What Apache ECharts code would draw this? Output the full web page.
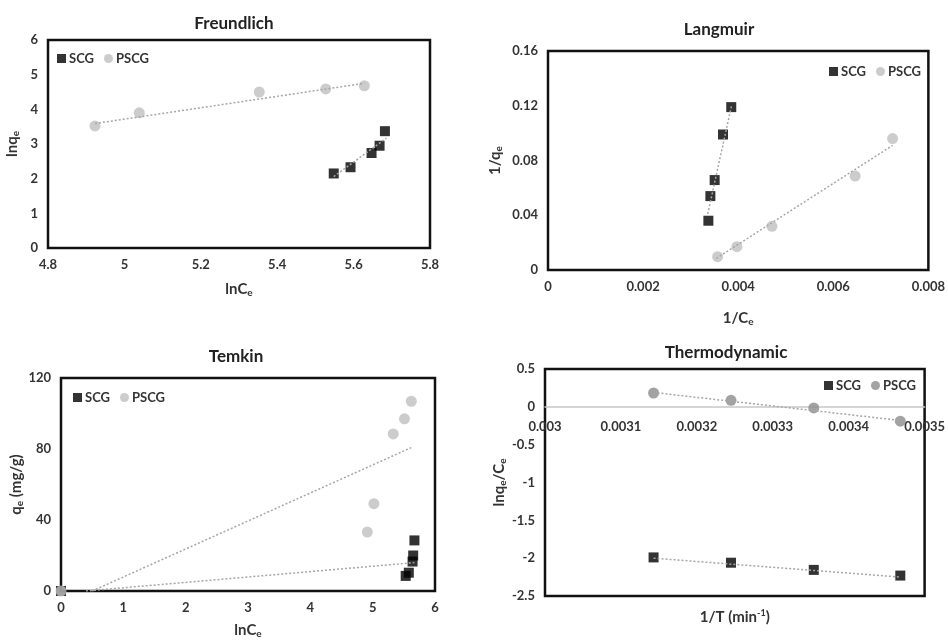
<!DOCTYPE html>
<html>
<head>
<meta charset="utf-8">
<script src="https://cdn.jsdelivr.net/npm/echarts@6/dist/echarts.min.js"></script>
<style>
    html, body { margin: 0; padding: 0; background: #fff; }
    #chart { width: 948px; height: 640px; }
</style>
</head>
<body>
<div id="chart"></div>
<script>
// Freundlich
var freundScgX = [5.548, 5.592, 5.647, 5.668, 5.682];
var freundScgY = [2.15, 2.33, 2.74, 2.95, 3.37];
var freundPscgX = [4.923, 5.039, 5.353, 5.527, 5.628];
var freundPscgY = [3.52, 3.90, 4.50, 4.59, 4.68];
var freundScgTrend = [[5.548, 2.06], [5.686, 3.17]];
var freundPscgTrend = [[4.923, 3.59], [5.628, 4.75]];

// Langmuir
var langScgX = [0.003373, 0.003415, 0.003505, 0.00368, 0.003854];
var langScgY = [0.036, 0.054, 0.0657, 0.099, 0.119];
var langPscgX = [0.003568, 0.003972, 0.00471, 0.00646, 0.007247];
var langPscgY = [0.0097, 0.017, 0.0319, 0.0686, 0.096];
var langScgTrend = [[0.00336, 0.041], [0.00386, 0.12]];
var langPscgTrend = [[0.00354, 0.0085], [0.007247, 0.091]];

// Temkin
var temkScgX = [0, 5.53, 5.58, 5.64, 5.65, 5.67];
var temkScgY = [0, 8.5, 10.3, 16.6, 20, 28.5];
var temkPscgX = [0, 4.914, 5.02, 5.33, 5.51, 5.62];
var temkPscgY = [0, 33.2, 49.2, 88.5, 97, 106.9];
var temkScgTrend = [[0.4, 0], [5.67, 16]];
var temkPscgTrend = [[0.5, 0], [5.62, 80.8]];

// Thermodynamic
var thermoX = [0.003143, 0.003245, 0.003354, 0.003468];
var thermoScgY = [-1.99, -2.06, -2.155, -2.23];
var thermoPscgY = [0.183, 0.086, -0.015, -0.19];
var thermoScgTrend = [[0.003143, -2.0], [0.003468, -2.25]];
var thermoPscgTrend = [[0.003143, 0.19], [0.003468, -0.18]];

var FONT = 'Lato';
var TXT = '#333';

function zip(xs, ys) {
    return xs.map(function (x, i) { return [x, ys[i]]; });
}

var rich = {
    a: { fontFamily: FONT, fontWeight: 'bold', fontSize: 15, color: TXT },
    s: { fontFamily: FONT, fontWeight: 'bold', fontSize: 10, color: TXT, padding: [7, 0, 0, 0] },
    p: { fontFamily: FONT, fontWeight: 'bold', fontSize: 9, color: TXT, padding: [0, 0, 7, 0] }
};

var grids = [
    { left: 48, top: 40, width: 382, height: 208 },
    { left: 548, top: 51, width: 383, height: 219 },
    { left: 61, top: 378, width: 374, height: 216 },
    { left: 545, top: 369, width: 384, height: 227 }
].map(function (g) {
    g.show = true;
    g.borderColor = '#111';
    g.borderWidth = 2.5;
    g.backgroundColor = '#fff';
    g.containLabel = false;
    return g;
});

// thermodynamic y range, x axis sits on y = 0
var thermoYMin = -2.5;
var thermoYMax = 0.5;
var thermoZeroOffset = -grids[3].height * (0 - thermoYMin) / (thermoYMax - thermoYMin);

function axisBase(extra) {
    var a = {
        type: 'value',
        axisLine: { show: false },
        axisTick: { show: false },
        splitLine: { show: false },
        axisLabel: { fontFamily: FONT, fontWeight: 'bold', fontSize: 13, color: TXT, margin: 10 },
        nameLocation: 'middle',
        nameTextStyle: { rich: rich }
    };
    for (var k in extra) { a[k] = extra[k]; }
    return a;
}

var xAxes = [
    axisBase({ gridIndex: 0, min: 4.8, max: 5.8, interval: 0.2, name: '{a|lnC}{s|e}', nameGap: 33 }),
    axisBase({ gridIndex: 1, min: 0, max: 0.008, interval: 0.002, name: '{a|1/C}{s|e}', nameGap: 40 }),
    axisBase({ gridIndex: 2, min: 0, max: 6, interval: 1, name: '{a|lnC}{s|e}', nameGap: 31 }),
    axisBase({
        gridIndex: 3, min: 0.003, max: 0.0035, interval: 0.0001, offset: thermoZeroOffset,
        axisLine: { show: true, onZero: false, lineStyle: { color: '#c8c8c8', width: 1.5 } },
        axisLabel: { fontFamily: FONT, fontWeight: 'bold', fontSize: 13, color: TXT, margin: 13 }
    }),
    // bottom name for the thermodynamic panel
    axisBase({
        gridIndex: 3, min: 0.003, max: 0.0035, position: 'bottom',
        axisLine: { show: false, onZero: false }, axisLabel: { show: false },
        name: '{a|1/T (min}{p|-1}{a|)}', nameGap: 13
    })
];

var yAxes = [
    axisBase({ gridIndex: 0, min: 0, max: 6, interval: 1, name: '{a|lnq}{s|e}', nameGap: 27 }),
    axisBase({ gridIndex: 1, min: 0, max: 0.16, interval: 0.04, name: '{a|1/q}{s|e}', nameGap: 44 }),
    axisBase({ gridIndex: 2, min: 0, max: 120, interval: 40, name: '{a|q}{s|e}{a| (mg/g)}', nameGap: 36 }),
    axisBase({ gridIndex: 3, min: thermoYMin, max: thermoYMax, interval: 0.5, name: '{a|lnq}{s|e}{a|/C}{s|e}', nameGap: 36 })
];

var SCG_COLOR = '#000';
var PSCG_COLOR = '#bfbfbf';
var PSCG_DARK = '#8c8c8c';

function pts(name, idx, data, symbol, color, size) {
    return {
        type: 'scatter', name: name, xAxisIndex: idx, yAxisIndex: idx,
        data: data, symbol: symbol, symbolSize: size, clip: false,
        itemStyle: { color: color }, z: 3
    };
}

function trend(idx, data) {
    return {
        type: 'line', name: 'trend' + idx, xAxisIndex: idx, yAxisIndex: idx,
        data: data, showSymbol: false, symbol: 'none', silent: true,
        lineStyle: { color: '#a6a6a6', width: 1.5, type: [2, 2] }, z: 4
    };
}

var series = [
    pts('SCG', 0, zip(freundScgX, freundScgY), 'rect', SCG_COLOR, 10),
    pts('PSCG', 0, zip(freundPscgX, freundPscgY), 'circle', PSCG_COLOR, 11),
    trend(0, freundScgTrend), trend(0, freundPscgTrend),

    pts('SCG', 1, zip(langScgX, langScgY), 'rect', SCG_COLOR, 10),
    pts('PSCG', 1, zip(langPscgX, langPscgY), 'circle', PSCG_COLOR, 11),
    trend(1, langScgTrend), trend(1, langPscgTrend),

    pts('SCG', 2, zip(temkScgX, temkScgY), 'rect', SCG_COLOR, 10),
    pts('PSCG', 2, zip(temkPscgX, temkPscgY), 'circle', PSCG_COLOR, 11),
    trend(2, temkScgTrend), trend(2, temkPscgTrend),

    pts('SCG', 3, zip(thermoX, thermoScgY), 'rect', SCG_COLOR, 10),
    pts('PSCG', 3, zip(thermoX, thermoPscgY), 'circle', PSCG_DARK, 11),
    trend(3, thermoScgTrend), trend(3, thermoPscgTrend)
];

function legend(pos, pscgColor) {
    var l = {
        orient: 'horizontal', itemWidth: 9, itemHeight: 9, itemGap: 10,
        textStyle: { fontFamily: FONT, fontWeight: 'bold', fontSize: 13, color: TXT, padding: [0, 0, 0, -2] },
        data: [
            { name: 'SCG', icon: 'rect', itemStyle: { color: SCG_COLOR } },
            { name: 'PSCG', icon: 'circle', itemStyle: { color: pscgColor } }
        ],
        selectedMode: false
    };
    for (var k in pos) { l[k] = pos[k]; }
    return l;
}

function title(text, x, y) {
    return {
        text: text, left: x, top: y, textAlign: 'center',
        textStyle: { fontFamily: FONT, fontWeight: 'bold', fontSize: 17, color: '#222' }
    };
}

var chart = echarts.init(document.getElementById('chart'));
chart.setOption({
    animation: false,
    backgroundColor: '#fff',
    title: [
        title('Freundlich', 229, 10),
        title('Langmuir', 714, 16),
        title('Temkin', 231, 343),
        title('Thermodynamic', 721, 339)
    ],
    legend: [
        legend({ left: 52, top: 47 }, PSCG_COLOR),
        legend({ right: 22, top: 60 }, PSCG_COLOR),
        legend({ left: 68, top: 386 }, PSCG_COLOR),
        legend({ right: 27, top: 374 }, PSCG_DARK)
    ],
    grid: grids,
    xAxis: xAxes,
    yAxis: yAxes,
    series: series
});
</script>
</body>
</html>
